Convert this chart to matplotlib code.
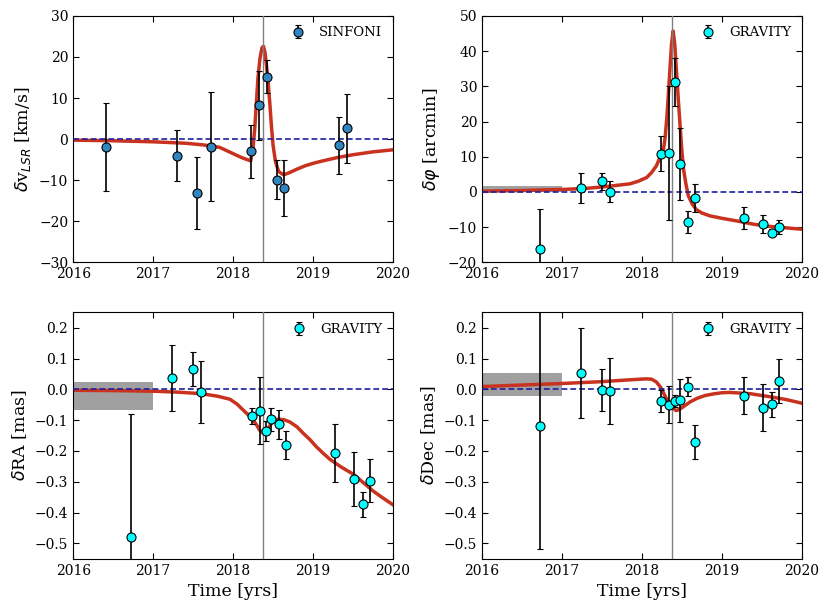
import numpy as np
import matplotlib
matplotlib.use("Agg")
import matplotlib.pyplot as plt

plt.rcParams['font.family'] = 'DejaVu Serif'

# --- data ---
# SINFONI velocity residuals
t_vlsr = [2016.41, 2017.30, 2017.55, 2017.73, 2018.23, 2018.33, 2018.42, 2018.55, 2018.64, 2019.33, 2019.43]
vlsr = [-2.0, -4.0, -13.2, -1.8, -3.0, 8.2, 15.2, -9.9, -11.8, -1.5, 2.6]
vlsr_err = [10.7, 6.2, 8.8, 13.2, 6.4, 8.3, 4.0, 4.7, 6.8, 7.0, 8.4]

# GRAVITY epochs
t_grav = [2016.72, 2017.24, 2017.50, 2017.60, 2018.24, 2018.34, 2018.41, 2018.48,
          2018.57, 2018.66, 2019.27, 2019.51, 2019.62, 2019.71]
phi = [-16.2, 1.1, 3.0, 0.1, 10.9, 11.0, 31.2, 7.9, -8.5, -1.8, -7.4, -9.1, -11.6, -10.0]
phi_err = [11.3, 4.2, 2.4, 3.1, 5.0, 19.0, 6.9, 10.2, 3.1, 4.0, 3.0, 2.6, 1.0, 2.0]
dra = [-0.480, 0.036, 0.066, -0.009, -0.086, -0.069, -0.136, -0.097,
       -0.114, -0.180, -0.207, -0.291, -0.373, -0.297]
dra_err = [0.40, 0.107, 0.056, 0.100, 0.026, 0.110, 0.032, 0.038,
           0.048, 0.046, 0.094, 0.088, 0.040, 0.070]
ddec = [-0.118, 0.053, -0.002, -0.005, -0.038, -0.050, -0.038, -0.036,
        0.009, -0.172, -0.021, -0.059, -0.049, 0.027]
ddec_err = [0.40, 0.145, 0.068, 0.107, 0.035, 0.060, 0.020, 0.070,
            0.032, 0.055, 0.060, 0.075, 0.040, 0.071]

# model curves
mt_vlsr = [2016.0, 2016.5, 2017.0, 2017.4, 2017.625, 2017.83, 2017.92, 2018.04, 2018.12,
           2018.22, 2018.25, 2018.27, 2018.29, 2018.31, 2018.335, 2018.36, 2018.38, 2018.40,
           2018.42, 2018.44, 2018.46, 2018.48, 2018.50, 2018.53, 2018.57, 2018.63, 2018.70,
           2018.80, 2018.90, 2019.0, 2019.1, 2019.3, 2019.5, 2019.75, 2020.0]
m_vlsr = [-0.25, -0.4, -0.65, -1.0, -1.4, -2.0, -2.8, -3.9, -4.6,
          -5.3, -2.0, 2.4, 8.5, 14.6, 19.5, 22.2, 22.6, 21.0,
          17.5, 13.5, 8.5, 3.0, -1.5, -5.5, -7.9, -8.7, -8.2,
          -7.3, -6.5, -5.9, -5.4, -4.5, -3.8, -3.1, -2.6]

mt_phi = [2016.0, 2016.5, 2017.0, 2017.3, 2017.5, 2017.7, 2017.85, 2017.95, 2018.06, 2018.12,
          2018.18, 2018.22, 2018.25, 2018.27, 2018.29, 2018.31, 2018.33, 2018.35, 2018.37,
          2018.39, 2018.41, 2018.43, 2018.455, 2018.48, 2018.50, 2018.52, 2018.55, 2018.58,
          2018.63, 2018.68, 2018.75, 2018.85, 2019.0, 2019.2, 2019.4, 2019.6, 2019.8, 2020.0]
m_phi = [0.2, 0.4, 0.7, 1.0, 1.4, 1.9, 2.3, 3.0, 4.1, 5.5,
         7.4, 9.5, 11.0, 12.2, 15.5, 20.7, 27.5, 34.9, 42.0,
         45.7, 42.0, 34.9, 26.0, 17.8, 11.5, 6.5, 2.2, -1.1,
         -3.5, -5.0, -6.0, -6.8, -7.5, -8.3, -9.2, -9.8, -10.2, -10.6]

mt_ra = [2016.0, 2016.5, 2017.0, 2017.3, 2017.6, 2017.8, 2017.96, 2018.05, 2018.125, 2018.19,
         2018.25, 2018.30, 2018.33, 2018.375, 2018.41, 2018.44, 2018.47, 2018.50, 2018.54,
         2018.58, 2018.64, 2018.71, 2018.80, 2018.875, 2018.96, 2019.04, 2019.12, 2019.21,
         2019.35, 2019.5, 2019.625, 2019.75, 2019.875, 2020.0]
m_ra = [-0.003, -0.004, -0.006, -0.009, -0.014, -0.022, -0.032, -0.048, -0.067, -0.083,
        -0.099, -0.118, -0.132, -0.142, -0.137, -0.126, -0.114, -0.105, -0.098,
        -0.097, -0.099, -0.106, -0.122, -0.142, -0.163, -0.186, -0.206, -0.227,
        -0.252, -0.275, -0.302, -0.330, -0.353, -0.375]

mt_dec = [2016.0, 2016.5, 2017.0, 2017.5, 2017.85, 2018.05, 2018.12, 2018.18, 2018.23, 2018.27,
          2018.31, 2018.35, 2018.39, 2018.43, 2018.47, 2018.52, 2018.60, 2018.69, 2018.79,
          2018.89, 2019.0, 2019.1, 2019.35, 2019.6, 2019.8, 2020.0]
m_dec = [0.009, 0.014, 0.019, 0.025, 0.031, 0.034, 0.033, 0.024, 0.008, -0.012,
         -0.032, -0.050, -0.063, -0.069, -0.065, -0.056, -0.041, -0.029, -0.020,
         -0.015, -0.011, -0.010, -0.014, -0.024, -0.033, -0.045]

t_peri = 2018.38
# grey pre-2017 bands (low, high); None for the velocity panel
boxes = [None, (0.0, 1.6), (-0.067, 0.024), (-0.020, 0.054)]

yt_v = [-30, -20, -10, 0, 10, 20, 30]
yt_phi = [-20, -10, 0, 10, 20, 30, 40, 50]
yt_mas = [-0.5, -0.4, -0.3, -0.2, -0.1, 0.0, 0.1, 0.2]

panels = [
    (t_vlsr, vlsr, vlsr_err, mt_vlsr, m_vlsr, 'SINFONI', '#2f86c0',
     r'$\delta$v$_{LSR}$ [km/s]', (-30, 30), yt_v),
    (t_grav, phi, phi_err, mt_phi, m_phi, 'GRAVITY', 'cyan',
     r'$\delta\varphi$ [arcmin]', (-20, 50), yt_phi),
    (t_grav, dra, dra_err, mt_ra, m_ra, 'GRAVITY', 'cyan',
     r'$\delta$RA [mas]', (-0.55, 0.25), yt_mas),
    (t_grav, ddec, ddec_err, mt_dec, m_dec, 'GRAVITY', 'cyan',
     r'$\delta$Dec [mas]', (-0.55, 0.25), yt_mas),
]

fig, axes = plt.subplots(2, 2, figsize=(8.31, 6.12), dpi=100)
fig.subplots_adjust(left=0.088, right=0.965, bottom=0.087, top=0.974, wspace=0.278, hspace=0.203)

for i, (ax, p) in enumerate(zip(axes.flat, panels)):
    t, y, yerr, mt, my, lab, col, ylab, ylim, yt = p
    if boxes[i] is not None:
        lo, hi = boxes[i]
        ax.fill_between([2016, 2017], [lo, lo], [hi, hi], color='#a0a0a0', lw=0, zorder=1)
    ax.plot(mt, my, color='#c8321e', lw=2.5, zorder=2)
    ax.axhline(0, color='#1f1fa0', ls='--', dashes=(3.5, 1.8), lw=1.2, zorder=3)
    ax.axvline(t_peri, color='gray', lw=1.0, zorder=3)
    ax.errorbar(t, y, yerr=yerr, fmt='o', color=col, mec='black', mew=0.8, ms=6.5,
                ecolor='black', elinewidth=1.2, capsize=2.5, capthick=1.0,
                label=lab, zorder=4)
    ax.set_xlim(2016, 2020)
    ax.set_ylim(*ylim)
    ax.set_xticks([2016, 2017, 2018, 2019, 2020])
    ax.set_yticks(yt)
    if i >= 2:
        ax.set_xlabel('Time [yrs]', fontsize=12.5)
    ax.set_ylabel(ylab, fontsize=12.5)
    ax.tick_params(direction='in', top=True, right=True, labelsize=10, length=4)
    ax.legend(loc='upper right', frameon=False, fontsize=9.5, handletextpad=1.0,
              handlelength=1.2, borderaxespad=0.4)

fig.savefig('out.png', dpi=100)
